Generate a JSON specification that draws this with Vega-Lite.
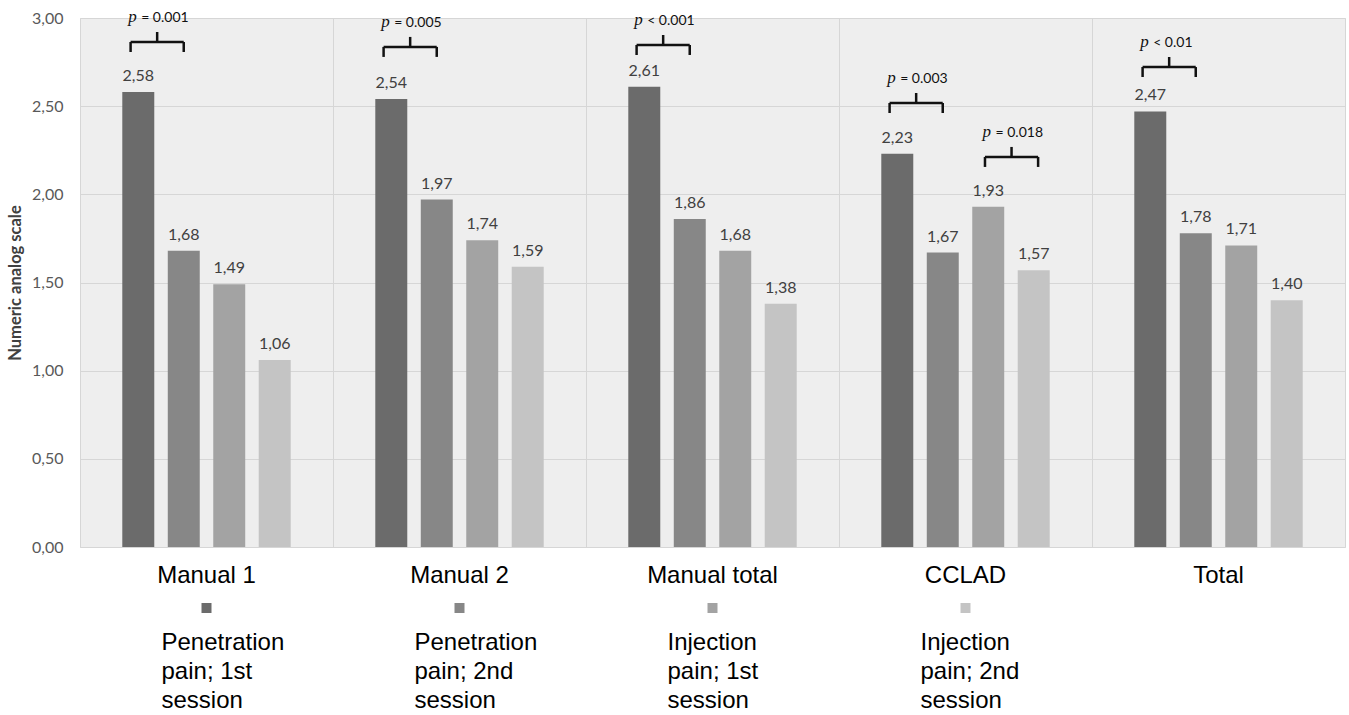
{
  "$schema": "https://vega.github.io/schema/vega-lite/v6.json",
  "padding": {"left": 7, "top": 7, "right": 4, "bottom": 0},
  "background": "white",
  "bounds": "flush",
  "spacing": 51,
  "config": {
    "locale": {"number": {"decimal": ",", "thousands": ".", "grouping": [3], "currency": ["", " €"]}},
    "view": {"stroke": null},
    "axisY": {"titleFont": "Lato", "titleFontSize": 16.5, "titleFontWeight": "bold", "titleColor": "#404040", "titlePadding": 8},
    "axisX": {"labelFont": "Liberation Sans", "labelFontSize": 24, "labelColor": "#000000"}
  },
  "datasets": {
    "bars": [
      {"group": "Manual 1", "series": "P1", "value": 2.58},
      {"group": "Manual 1", "series": "P2", "value": 1.68},
      {"group": "Manual 1", "series": "I1", "value": 1.49},
      {"group": "Manual 1", "series": "I2", "value": 1.06},
      {"group": "Manual 2", "series": "P1", "value": 2.54},
      {"group": "Manual 2", "series": "P2", "value": 1.97},
      {"group": "Manual 2", "series": "I1", "value": 1.74},
      {"group": "Manual 2", "series": "I2", "value": 1.59},
      {"group": "Manual total", "series": "P1", "value": 2.61},
      {"group": "Manual total", "series": "P2", "value": 1.86},
      {"group": "Manual total", "series": "I1", "value": 1.68},
      {"group": "Manual total", "series": "I2", "value": 1.38},
      {"group": "CCLAD", "series": "P1", "value": 2.23},
      {"group": "CCLAD", "series": "P2", "value": 1.67},
      {"group": "CCLAD", "series": "I1", "value": 1.93},
      {"group": "CCLAD", "series": "I2", "value": 1.57},
      {"group": "Total", "series": "P1", "value": 2.47},
      {"group": "Total", "series": "P2", "value": 1.78},
      {"group": "Total", "series": "I1", "value": 1.71},
      {"group": "Total", "series": "I2", "value": 1.40}
    ],
    "brackets": [
      {"group": "Manual 1", "pair": "12", "level": 2.864, "p": "p", "stat": "= 0.001"},
      {"group": "Manual 2", "pair": "12", "level": 2.836, "p": "p", "stat": "= 0.005"},
      {"group": "Manual total", "pair": "12", "level": 2.847, "p": "p", "stat": "< 0.001"},
      {"group": "CCLAD", "pair": "12", "level": 2.518, "p": "p", "stat": "= 0.003"},
      {"group": "CCLAD", "pair": "34", "level": 2.212, "p": "p", "stat": "= 0.018"},
      {"group": "Total", "pair": "12", "level": 2.722, "p": "p", "stat": "< 0.01"}
    ],
    "legend": [
      {"series": "P1", "label": "Penetration|pain; 1st|session"},
      {"series": "P2", "label": "Penetration|pain; 2nd|session"},
      {"series": "I1", "label": "Injection|pain; 1st|session"},
      {"series": "I2", "label": "Injection|pain; 2nd|session"}
    ]
  },
  "vconcat": [
    {
      "width": 1265,
      "height": 529,
      "view": {"fill": "#eeeeee", "stroke": "#d6d6d6"},
      "layer": [
        {
          "data": {"name": "bars"},
          "mark": {"type": "bar"},
          "encoding": {
            "x": {"field": "group", "type": "nominal",
              "scale": {"domain": ["Manual 1", "Manual 2", "Manual total", "CCLAD", "Total"], "paddingInner": 0, "paddingOuter": 0},
              "axis": {"title": null, "bandPosition": 0, "labelAngle": 0, "labelFont": "Liberation Sans", "labelFontSize": 24, "labelColor": "#000000", "labelPadding": 16, "ticks": false, "domain": false, "grid": true, "gridColor": "#d6d6d6", "gridWidth": 1}},
            "xOffset": {"field": "series", "type": "nominal",
              "scale": {"domain": ["P1", "P2", "I1", "I2"], "paddingInner": 0.297, "paddingOuter": 0.93}},
            "y": {"field": "value", "type": "quantitative",
              "scale": {"domain": [0, 3], "nice": false},
              "axis": {"title": "Numeric analog scale", "titleFont": "Lato", "titleFontSize": 16.5, "titleFontWeight": "bold", "titleColor": "#404040", "titlePadding": 8,
                "values": [0, 0.5, 1, 1.5, 2, 2.5, 3], "format": ".2f", "labelFont": "Lato", "labelFontSize": 16, "labelColor": "#595959", "labelPadding": 17,
                "ticks": false, "domain": false, "grid": true, "gridColor": "#d6d6d6", "gridWidth": 1}},
            "color": {"field": "series", "type": "nominal",
              "scale": {"domain": ["P1", "P2", "I1", "I2"], "range": ["#6b6b6b", "#878787", "#a3a3a3", "#c4c4c4"]},
              "legend": null}
          }
        },
        {
          "data": {"name": "bars"},
          "mark": {"type": "text", "font": "Lato", "fontSize": 16, "color": "#404040", "baseline": "alphabetic", "dy": -11},
          "encoding": {
            "x": {"field": "group", "type": "nominal"},
            "xOffset": {"field": "series", "type": "nominal"},
            "y": {"field": "value", "type": "quantitative"},
            "text": {"field": "value", "type": "quantitative", "format": ".2f"}
          }
        },
        {
          "data": {"name": "brackets"},
          "transform": [{"filter": "datum.pair == '12'"}],
          "layer": [
            {
              "mark": {"type": "rule", "color": "#111111", "strokeWidth": 2.5},
              "encoding": {
                "x": {"field": "group", "type": "nominal", "bandPosition": 0.2},
                "x2": {"field": "group", "bandPosition": 0.41},
                "y": {"field": "level", "type": "quantitative"}
              }
            },
            {
              "mark": {"type": "rule", "color": "#111111", "strokeWidth": 2.5, "y2Offset": 10},
              "encoding": {
                "x": {"field": "group", "type": "nominal", "bandPosition": 0.2},
                "y": {"field": "level", "type": "quantitative"},
                "y2": {"field": "level"}
              }
            },
            {
              "mark": {"type": "rule", "color": "#111111", "strokeWidth": 2.5, "y2Offset": 10},
              "encoding": {
                "x": {"field": "group", "type": "nominal", "bandPosition": 0.41},
                "y": {"field": "level", "type": "quantitative"},
                "y2": {"field": "level"}
              }
            },
            {
              "mark": {"type": "rule", "color": "#111111", "strokeWidth": 2.5, "y2Offset": -10},
              "encoding": {
                "x": {"field": "group", "type": "nominal", "bandPosition": 0.305},
                "y": {"field": "level", "type": "quantitative"},
                "y2": {"field": "level"}
              }
            },
            {
              "mark": {"type": "text", "font": "Liberation Serif", "fontStyle": "italic", "fontSize": 17, "color": "#111111", "align": "left", "baseline": "alphabetic", "dx": -29, "dy": -20},
              "encoding": {
                "x": {"field": "group", "type": "nominal", "bandPosition": 0.305},
                "y": {"field": "level", "type": "quantitative"},
                "text": {"field": "p"}
              }
            },
            {
              "mark": {"type": "text", "font": "Lato", "fontSize": 14, "color": "#111111", "align": "left", "baseline": "alphabetic", "dx": -16, "dy": -20},
              "encoding": {
                "x": {"field": "group", "type": "nominal", "bandPosition": 0.305},
                "y": {"field": "level", "type": "quantitative"},
                "text": {"field": "stat"}
              }
            }
          ]
        },
        {
          "data": {"name": "brackets"},
          "transform": [{"filter": "datum.pair == '34'"}],
          "layer": [
            {
              "mark": {"type": "rule", "color": "#111111", "strokeWidth": 2.5},
              "encoding": {
                "x": {"field": "group", "type": "nominal", "bandPosition": 0.577},
                "x2": {"field": "group", "bandPosition": 0.787},
                "y": {"field": "level", "type": "quantitative"}
              }
            },
            {
              "mark": {"type": "rule", "color": "#111111", "strokeWidth": 2.5, "y2Offset": 10},
              "encoding": {
                "x": {"field": "group", "type": "nominal", "bandPosition": 0.577},
                "y": {"field": "level", "type": "quantitative"},
                "y2": {"field": "level"}
              }
            },
            {
              "mark": {"type": "rule", "color": "#111111", "strokeWidth": 2.5, "y2Offset": 10},
              "encoding": {
                "x": {"field": "group", "type": "nominal", "bandPosition": 0.787},
                "y": {"field": "level", "type": "quantitative"},
                "y2": {"field": "level"}
              }
            },
            {
              "mark": {"type": "rule", "color": "#111111", "strokeWidth": 2.5, "y2Offset": -10},
              "encoding": {
                "x": {"field": "group", "type": "nominal", "bandPosition": 0.682},
                "y": {"field": "level", "type": "quantitative"},
                "y2": {"field": "level"}
              }
            },
            {
              "mark": {"type": "text", "font": "Liberation Serif", "fontStyle": "italic", "fontSize": 17, "color": "#111111", "align": "left", "baseline": "alphabetic", "dx": -29, "dy": -20},
              "encoding": {
                "x": {"field": "group", "type": "nominal", "bandPosition": 0.682},
                "y": {"field": "level", "type": "quantitative"},
                "text": {"field": "p"}
              }
            },
            {
              "mark": {"type": "text", "font": "Lato", "fontSize": 14, "color": "#111111", "align": "left", "baseline": "alphabetic", "dx": -16, "dy": -20},
              "encoding": {
                "x": {"field": "group", "type": "nominal", "bandPosition": 0.682},
                "y": {"field": "level", "type": "quantitative"},
                "text": {"field": "stat"}
              }
            }
          ]
        }
      ]
    },
    {
      "width": 1012,
      "height": 20,
      "data": {"name": "legend"},
      "layer": [
        {
          "mark": {"type": "square", "size": 100, "opacity": 1},
          "encoding": {
            "x": {"field": "series", "type": "nominal", "scale": {"domain": ["P1", "P2", "I1", "I2"], "paddingInner": 0, "paddingOuter": 0}, "axis": null},
            "color": {"field": "series", "type": "nominal", "legend": null}
          }
        },
        {
          "mark": {"type": "text", "font": "Liberation Sans", "fontSize": 24, "color": "#000000", "align": "left", "baseline": "top", "dx": -45, "dy": 23, "lineBreak": "|", "lineHeight": 29},
          "encoding": {
            "x": {"field": "series", "type": "nominal", "axis": null},
            "text": {"field": "label"}
          }
        }
      ]
    }
  ]
}
